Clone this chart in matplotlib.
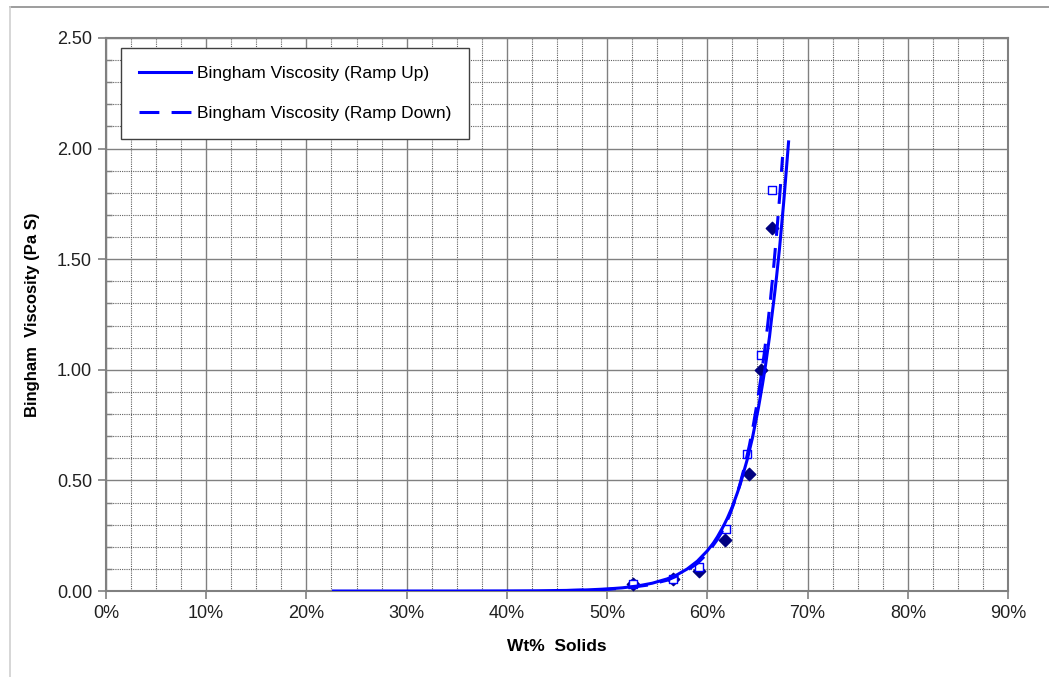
import numpy as np
import matplotlib.pyplot as plt
from matplotlib.lines import Line2D
from matplotlib.ticker import MultipleLocator, FuncFormatter

plt.rcParams['font.family'] = ['Liberation Sans', 'DejaVu Sans']

# measured points: wt% solids vs Bingham viscosity (Pa S)
wt_up = [52.6, 56.6, 59.2, 61.8, 64.2, 65.3, 66.4]
visc_up = [0.032, 0.054, 0.092, 0.231, 0.527, 1.00, 1.643]

wt_down = [52.6, 56.6, 59.2, 61.9, 64.0, 65.3, 66.4]
visc_down = [0.030, 0.055, 0.11, 0.28, 0.62, 1.066, 1.813]

# exponential trend curves (points along each curve)
trend_up_x = [22.7, 30.0, 35.0, 40.0, 43.0, 46.0, 48.0, 50.0, 51.5, 53.0, 54.5,
              56.0, 57.0, 58.0, 59.0, 60.0, 60.6, 61.0, 61.6, 62.0, 62.5, 63.0,
              63.3, 64.0, 64.5, 65.1, 65.5, 65.8, 66.0, 66.2, 66.4, 66.7, 66.9,
              67.2, 67.4, 67.6, 67.8, 68.1]
trend_up_y = [0.0, 0.0, 0.0001, 0.0005, 0.0011, 0.0028, 0.0051, 0.0093, 0.0144, 0.0225, 0.0353,
              0.055, 0.074, 0.100, 0.135, 0.182, 0.217, 0.245, 0.293, 0.330, 0.382, 0.445,
              0.486, 0.598, 0.693, 0.830, 0.935, 1.02, 1.085, 1.15, 1.23, 1.34, 1.42,
              1.55, 1.65, 1.75, 1.86, 2.03]

trend_down_x = [45.7, 48.0, 50.0, 52.0, 54.0, 56.0, 57.5, 59.0, 60.0, 61.0, 61.6,
                62.2, 62.8, 63.2, 63.7, 64.2, 64.6, 65.0, 65.4, 65.7, 66.0, 66.3,
                66.6, 66.9, 67.2, 67.5]
trend_down_y = [0.002, 0.0041, 0.0077, 0.0143, 0.0265, 0.049, 0.0786, 0.125, 0.170, 0.233, 0.28,
                0.341, 0.416, 0.475, 0.56, 0.66, 0.754, 0.86, 0.981, 1.083, 1.196, 1.32,
                1.458, 1.61, 1.777, 1.962]

fig = plt.figure(figsize=(10.49, 6.77), dpi=100)
ax = fig.add_axes([0.101, 0.127, 0.860, 0.817])

# outer frame lines
fig.add_artist(Line2D([0.0095, 1.0], [0.99, 0.99], transform=fig.transFigure,
                      color='#8c8c8c', lw=1.2))
fig.add_artist(Line2D([0.0095, 0.0095], [0.0, 0.99], transform=fig.transFigure,
                      color='#d0d0d0', lw=1.2))

ax.scatter(wt_up, visc_up, marker='D', s=40, color='#000080', zorder=3)
ax.scatter(wt_down, visc_down, marker='s', s=32, facecolor='white',
           edgecolor='#0000ff', linewidth=1.0, zorder=3)

ax.plot(trend_up_x, trend_up_y, '-', color='#0000ff', lw=2.2, zorder=4,
        label='Bingham Viscosity (Ramp Up)')
ax.plot(trend_down_x, trend_down_y, '--', color='#0000ff', lw=2.2, zorder=4,
        dashes=(6.5, 4), label='Bingham Viscosity (Ramp Down)')

ax.set_xlim(0, 90)
ax.set_ylim(0, 2.5)
ax.xaxis.set_major_locator(MultipleLocator(10))
ax.xaxis.set_minor_locator(MultipleLocator(2.5))
ax.yaxis.set_major_locator(MultipleLocator(0.5))
ax.yaxis.set_minor_locator(MultipleLocator(0.1))
ax.xaxis.set_major_formatter(FuncFormatter(lambda v, p: f'{v:.0f}%'))
ax.yaxis.set_major_formatter(FuncFormatter(lambda v, p: f'{v:.2f}'))

ax.grid(which='major', color='#808080', lw=1.0, ls='-')
ax.grid(which='minor', color='#606060', lw=0.8, ls=(0, (1, 1)))
ax.set_axisbelow(True)

for s in ax.spines.values():
    s.set_color('#808080')
    s.set_linewidth(1.5)

ax.tick_params(which='major', direction='out', length=6, color='#808080',
               labelsize=13, labelcolor='#202020', width=1.2, pad=4)
ax.tick_params(which='minor', direction='in', length=4, color='#808080', width=1.0)
ax.tick_params(axis='x', which='minor', length=0)

ax.set_xlabel('Wt%  Solids', fontsize=12.5, fontweight='bold', labelpad=12)
ax.set_ylabel('Bingham  Viscosity (Pa S)', fontsize=12, fontweight='bold', labelpad=12)

leg = ax.legend(loc='upper left', bbox_to_anchor=(0.017, 0.981), fontsize=12.5,
                frameon=True, fancybox=False, edgecolor='#404040', framealpha=1,
                handlelength=3.0, labelspacing=1.45, borderpad=1.0, borderaxespad=0,
                handletextpad=0.35)
leg.get_frame().set_linewidth(1.0)

fig.savefig('out.png', dpi=100)
